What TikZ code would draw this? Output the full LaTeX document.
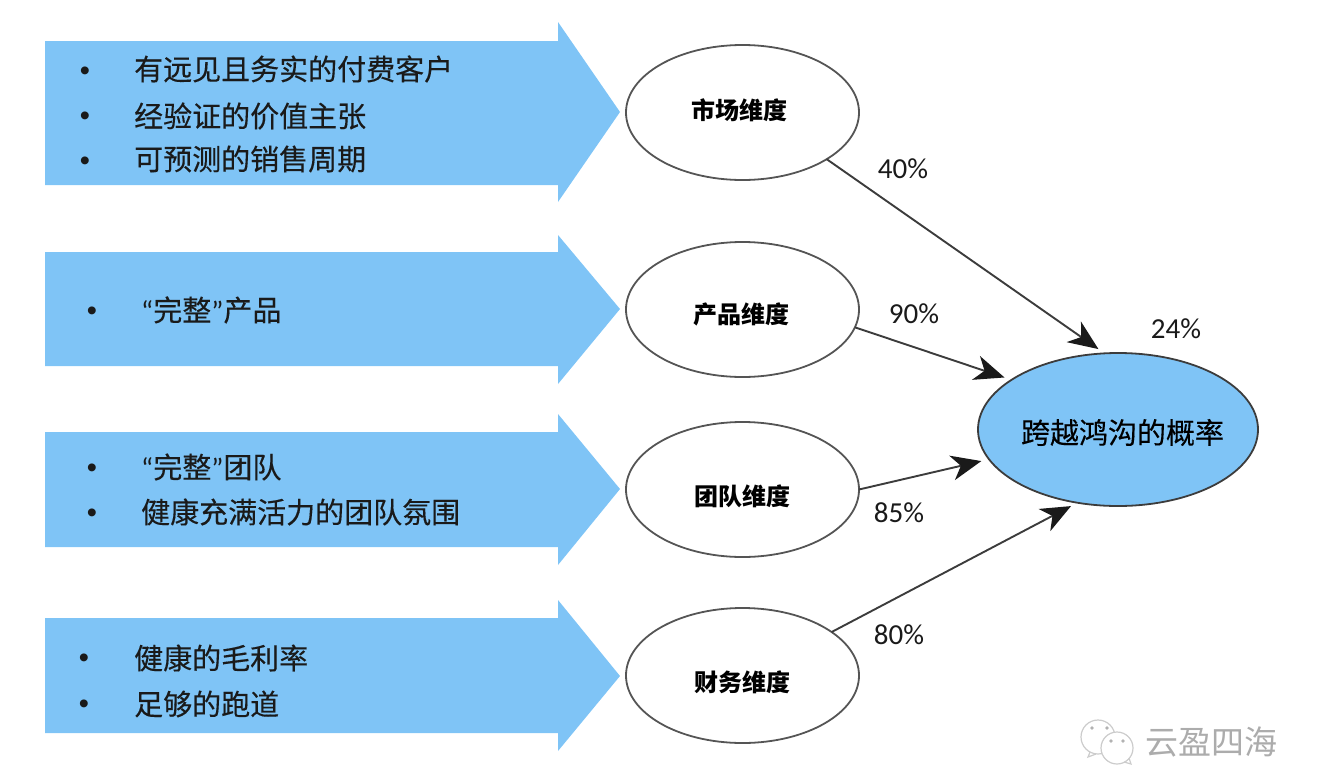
\documentclass[tikz,border=0pt]{standalone}
\usepackage{fontspec}
\setmainfont{Carlito}
\newfontfamily\cjk{Noto Sans CJK SC}
\newfontfamily\cjkitem[FakeBold=0.25]{Noto Sans CJK SC}
\newfontfamily\dotfont{Liberation Sans}
\usetikzlibrary{arrows.meta,shapes.geometric}

\definecolor{bandblue}{RGB}{127,196,246}
\definecolor{inkgray}{RGB}{26,26,26}
\definecolor{rimgray}{RGB}{85,85,85}

% label inside an ellipse, moved off its centre
\newcommand{\nudge}[3]{\raisebox{#2}[\height][\depth]{\hspace*{#1}\makebox[0pt]{#3}\hspace*{-#1}}}

\tikzset{
  band/.style={fill=bandblue},
  item/.style={anchor=west,inner sep=0pt,text=inkgray,font=\cjkitem\fontsize{29}{32}\selectfont},
  dotmark/.style={inner sep=0pt,yshift=-4pt,text=inkgray,font=\dotfont\fontsize{29}{32}\selectfont},
  dimnode/.style={ellipse,draw=rimgray,line width=1.8pt,fill=white,inner sep=0pt,outer sep=0pt,
    minimum width=233pt,minimum height=135pt,text=black,font=\cjk\bfseries\fontsize{24}{28}\selectfont},
  conn/.style={draw=rimgray!70!black,line width=1.9pt,-{Stealth[length=30pt,width=25pt,inset=9pt,color=inkgray]}},
  pct/.style={inner sep=0pt,text=inkgray,font=\fontsize{29}{32}\selectfont}
}

\begin{document}
\begin{tikzpicture}[x=1pt,y=-1pt]
  \useasboundingbox (0,0) rectangle (1320,782);

  % blue bands
  \fill[band] (45,41) -- (558,41) -- (558,22) -- (620,112) -- (558,202) -- (558,185) -- (45,185) -- cycle;
  \fill[band] (45,252) -- (558,252) -- (558,235) -- (620,309) -- (558,384) -- (558,366) -- (45,366) -- cycle;
  \fill[band] (45,432) -- (558,432) -- (558,414) -- (620,489) -- (558,565) -- (558,547) -- (45,547) -- cycle;
  \fill[band] (45,618) -- (558,618) -- (558,600) -- (620,676) -- (558,751) -- (558,733) -- (45,733) -- cycle;

  \foreach \nm/\px/\py in {da/85/70,db/85/115,dc/85/160,dd/92/310,de/92/467,df/92/512,dg/84/657,dh/84/703}
    \node[dotmark] (\nm) at (\px,\py) {•};

  \node[item] (visa) at (134,69) {有远见且务实的付费客户};
  \node[item] (visb) at (134,116) {经验证的价值主张};
  \node[item] (visc) at (134,159) {可预测的销售周期};
  \node[item] (whole) at (141,310) {{\rmfamily “}完整{\rmfamily ”}产品};
  \node[item] (crewa) at (141,467) {{\rmfamily “}完整{\rmfamily ”}团队};
  \node[item] (crewb) at (141,512) {健康充满活力的团队氛围};
  \node[item] (cash) at (134,658) {健康的毛利率};
  \node[item] (runway) at (134,704) {足够的跑道};

  % ellipses
  \node[dimnode] (mkt) at (742.5,112.5) {\nudge{-3.5pt}{2.5pt}{市场维度}};
  \node[dimnode] (prod) at (742.5,309.5) {\nudge{-1.5pt}{-4.5pt}{产品维度}};
  \node[dimnode] (crew) at (742.5,489.5) {\nudge{0pt}{-6.5pt}{团队维度}};
  \node[dimnode] (fin) at (742.5,675.5) {\nudge{0pt}{-6.5pt}{财务维度}};
  \node[dimnode,fill=bandblue,draw=rimgray!70!black,minimum width=280pt,minimum height=153pt,
    font=\cjkitem\fontsize{29}{32}\selectfont] (target) at (1118,429.5) {\nudge{4.5pt}{-3pt}{跨越鸿沟的概率}};

  \draw[conn,shorten >=7.5pt] (mkt.-29.4) -- (target.100.8);
  \draw[conn,shorten >=7.4pt] (prod.-9.2) -- (target.155.9);
  \draw[conn,shorten >=7.9pt] (crew.0.7) -- (target.193.4);
  \draw[conn,shorten >=7.2pt] (fin.26.7) -- (target.241);

  \node[pct] (pm) at (903,169) {40\%};
  \node[pct] (pp) at (914,314) {90\%};
  \node[pct] (pc) at (899,513) {85\%};
  \node[pct] (pf) at (899,635) {80\%};
  \node[pct] (pt) at (1176,329) {24\%};

  % watermark
  \draw[gray!40,line width=1.2pt,fill=white] (1098,737) circle (17);
  \draw[gray!40,line width=1.2pt] (1090,752) -- (1088,757) -- (1096,754);
  \draw[gray!40,line width=1.2pt,fill=white] (1117,748) circle (16);
  \draw[gray!40,line width=1.2pt] (1124,762) -- (1131,764) -- (1129,758);
  \fill[gray!60] (1092,728) circle (1.8) (1107,728) circle (1.8) (1111,741) circle (1.8) (1123,741) circle (1.8);
  \node[inner sep=0pt,text=gray!65,font=\cjk\fontsize{33}{36}\selectfont] (mark) at (1211,742) {云盈四海};
\end{tikzpicture}
\end{document}
